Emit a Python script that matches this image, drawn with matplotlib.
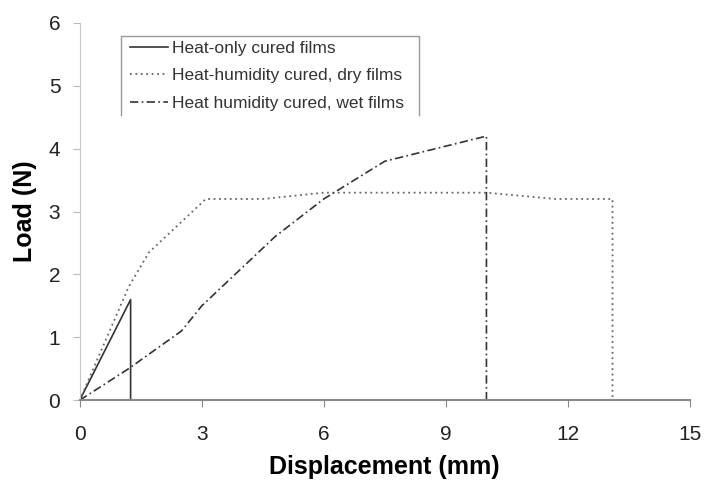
import matplotlib
matplotlib.use("Agg")
import matplotlib.pyplot as plt
from matplotlib.lines import Line2D

plt.rcParams['font.family'] = ['Liberation Sans', 'DejaVu Sans']

heat_x = [0, 1.25, 1.25]
heat_y = [0, 1.6, 0]

dry_x = [0, 1.2, 1.7, 3.1, 4.5, 6.0, 10.0, 11.7, 13.1, 13.1]
dry_y = [0, 1.8, 2.35, 3.2, 3.2, 3.3, 3.3, 3.2, 3.2, 0]

wet_x = [0, 1.2, 2.5, 3.0, 4.8, 6.0, 7.5, 10.0, 10.0]
wet_y = [0, 0.5, 1.1, 1.5, 2.6, 3.2, 3.8, 4.2, 0]

labels = ['Heat-only cured films', 'Heat-humidity cured, dry films',
          'Heat humidity cured, wet films']

fig = plt.figure(figsize=(7.06, 4.88), dpi=100)
ax = fig.add_axes([0.113, 0.18, 0.864, 0.773])

ax.plot(heat_x, heat_y, color='#333333', lw=1.2, ls='-', label=labels[0])
ax.plot(dry_x, dry_y, color='#666666', lw=1.3, ls=(0, (1, 2)), label=labels[1])
ax.plot(wet_x, wet_y, color='#333333', lw=1.2, ls=(0, (5, 2, 1, 2)), label=labels[2])

ax.set_xlim(0, 15)
ax.set_ylim(0, 6)
ax.set_xticks([0, 3, 6, 9, 12, 15])
ax.set_yticks([0, 1, 2, 3, 4, 5, 6])
ax.tick_params(labelsize=15, length=5, labelcolor='#222222')
ax.tick_params(axis='y', color='#bbbbbb', pad=9)
ax.tick_params(axis='x', color='#888888', pad=13)
for s in ['top', 'right']:
    ax.spines[s].set_visible(False)
ax.spines['left'].set_color('#c8c8c8')
ax.spines['bottom'].set_color('#888888')
ax.spines['bottom'].set_linewidth(1.5)

ax.set_xlabel('Displacement (mm)', fontsize=18, fontweight='bold', labelpad=8)
ax.set_ylabel('Load (N)', fontsize=18, fontweight='bold', labelpad=8)

leg = fig.legend(loc='upper left', bbox_to_anchor=(0.184, 0.917), fontsize=12.5,
                 frameon=False, handlelength=2.2, handletextpad=0.25,
                 borderaxespad=0, borderpad=0, labelspacing=0.72)
for t in leg.get_texts():
    t.set_color('#333333')

# legend frame (bottom edge not visible in the original)
fx = [121 / 706, 121 / 706, 419 / 706, 419 / 706]
fy = [1 - 115 / 488, 1 - 36 / 488, 1 - 36 / 488, 1 - 115 / 488]
fig.add_artist(Line2D(fx, fy, transform=fig.transFigure, color='#999999', lw=1.0))

fig.savefig('out.png', dpi=100)
